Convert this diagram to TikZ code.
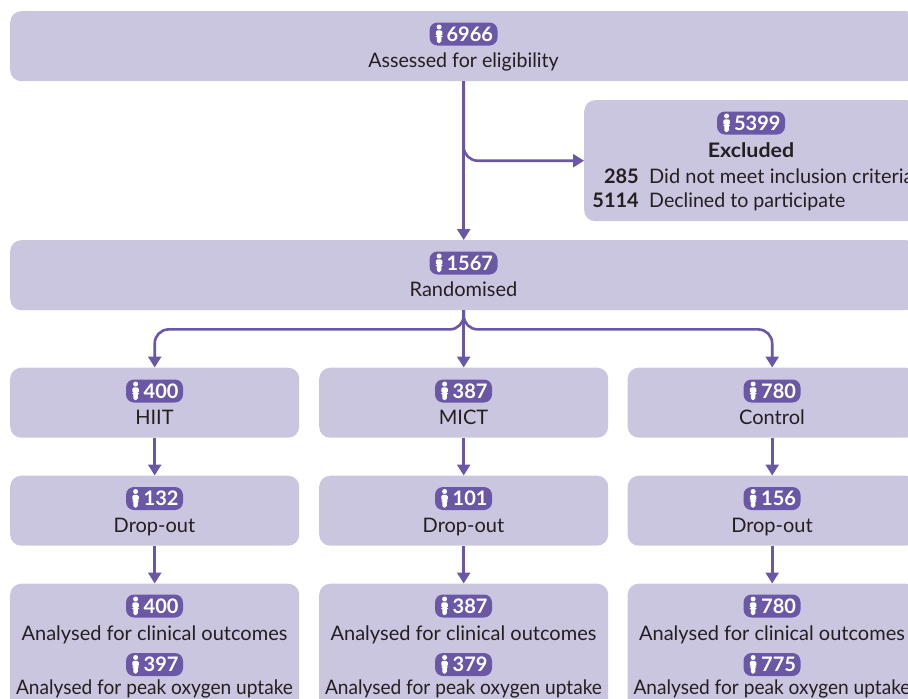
\documentclass[tikz,border=0pt]{standalone}
\usepackage{fontspec}
\setmainfont{Lato}
\usetikzlibrary{arrows.meta,positioning}
\definecolor{boxfill}{HTML}{CBC6E0}
\definecolor{purp}{HTML}{6A58A6}
\definecolor{ink}{HTML}{231F20}
\tikzset{
 x=1pt,y=-1pt,
 flowbox/.style={draw=none,fill=boxfill,rounded corners=11pt,anchor=north west,inner sep=0pt},
 txt/.style={text=ink,font=\fontsize{20}{24}\selectfont,inner sep=0pt,anchor=base},
 badge/.style={fill=purp,text=white,rounded corners=8pt,font=\fontsize{20}{24}\selectfont\bfseries,inner sep=0pt,minimum height=23pt,text depth=0pt},
 conn/.style={draw=purp,line width=2.6pt,-{Triangle[width=13pt,length=11pt]}},
 branch/.style={conn,rounded corners=14pt},
}
\newcommand{\narrowed}[2]{\scalebox{#1}[1]{#2}}
% #1 name, #2 centre, #3 number, #4 badge width
\newcommand{\pbadge}[4]{%
 \node[badge,minimum width=#4pt,text width=#4pt,align=right] (#1) at (#2) {\makebox[#4pt][r]{#3\hspace{4.5pt}}};
 \fill[white] ([xshift=9.8pt,yshift=7pt]#1.west) circle (2.5pt);
 \fill[white,rounded corners=1.5pt] ([xshift=6.5pt,yshift=3.6pt]#1.west) -- ([xshift=13.1pt,yshift=3.6pt]#1.west) -- ([xshift=13.1pt,yshift=-2pt]#1.west) -- ([xshift=12.1pt,yshift=-2pt]#1.west) -- ([xshift=11.9pt,yshift=-9pt]#1.west) -- ([xshift=7.7pt,yshift=-9pt]#1.west) -- ([xshift=7.5pt,yshift=-2pt]#1.west) -- ([xshift=6.5pt,yshift=-2pt]#1.west) -- cycle;
}
\begin{document}
\begin{tikzpicture}
\useasboundingbox (0,0) rectangle (908,699);
\clip (0,0) rectangle (908,699);
% boxes
\node[flowbox,minimum width=907pt,minimum height=70pt] (assess) at (10,11) {};
\node[flowbox,minimum width=333pt,minimum height=121pt] (excl) at (584,100) {};
\node[flowbox,minimum width=907pt,minimum height=70pt] (rand) at (10,240) {};
\node[flowbox,minimum width=289pt,minimum height=70pt] (hiit) at (10,367.5) {};
\node[flowbox,minimum width=289pt,minimum height=70pt] (mict) at (319,367.5) {};
\node[flowbox,minimum width=289pt,minimum height=70pt] (ctrl) at (627.5,367.5) {};
\node[flowbox,minimum width=289pt,minimum height=70pt] (dh) at (10,475.5) {};
\node[flowbox,minimum width=289pt,minimum height=70pt] (dm) at (319,475.5) {};
\node[flowbox,minimum width=289pt,minimum height=70pt] (dc) at (627.5,475.5) {};
\node[flowbox,minimum width=289pt,minimum height=140pt] (ah) at (10,583.5) {};
\node[flowbox,minimum width=289pt,minimum height=140pt] (am) at (319,583.5) {};
\node[flowbox,minimum width=289pt,minimum height=140pt] (ac) at (627.5,583.5) {};
% connectors
\draw[conn] (assess.south) -- (rand.north);
\draw[branch] (assess.south) |- (excl.west);
\draw[conn] (rand.south) -- (mict.north);
\draw[branch] (rand.south) |- ++(0,19) -| (hiit.north);
\draw[branch] (rand.south) |- ++(0,19) -| (ctrl.north);
\draw[conn] (hiit) -- (dh);
\draw[conn] (mict) -- (dm);
\draw[conn] (ctrl) -- (dc);
\draw[conn] (dh) -- (ah);
\draw[conn] (dm) -- (am);
\draw[conn] (dc) -- (ac);
% badges
\pbadge{b1}{463.5,34}{6966}{68}
\pbadge{b2}{751,123}{5399}{68}
\pbadge{b3}{463.5,263}{1567}{68}
\pbadge{b4}{154.5,391}{400}{57}
\pbadge{b5}{463.5,391}{387}{57}
\pbadge{b6}{772,391}{780}{57}
\pbadge{b7}{154.5,498.5}{132}{57}
\pbadge{b8}{463.5,498.5}{101}{57}
\pbadge{b9}{772,498.5}{156}{57}
\pbadge{b10}{154.5,606}{400}{57}
\pbadge{b11}{463.5,606}{387}{57}
\pbadge{b12}{772,606}{780}{57}
\pbadge{b13}{154.5,664.5}{397}{57}
\pbadge{b14}{463.5,664.5}{379}{57}
\pbadge{b15}{772,664.5}{775}{57}
% texts
\node[txt] (t1) at (463.5,67) {\narrowed{0.98}{Assessed for eligibility}};
\node[txt] (t2) at (751,157) {\narrowed{1.07}{\bfseries Excluded}};
\node[txt,anchor=base east] (t3) at (639,183) {\bfseries 285};
\node[txt,anchor=base west] (t4) at (649,183) {Did not meet inclusion criteria};
\node[txt,anchor=base east] (t5) at (639,207) {\bfseries 5114};
\node[txt,anchor=base west] (t6) at (649,207) {\narrowed{0.98}{Declined to participate}};
\node[txt] (t7) at (463.5,296) {Randomised};
\node[txt] (t8) at (154.5,424) {HIIT};
\node[txt] (t9) at (463.5,424) {MICT};
\node[txt] (t10) at (772,424) {Control};
\node[txt] (t11) at (154.5,532) {Drop-out};
\node[txt] (t12) at (463.5,532) {Drop-out};
\node[txt] (t13) at (772,532) {Drop-out};
\node[txt] (t14) at (154.5,640) {Analysed for clinical outcomes};
\node[txt] (t15) at (463.5,640) {Analysed for clinical outcomes};
\node[txt] (t16) at (772,640) {Analysed for clinical outcomes};
\node[txt] (t17) at (154.5,694) {\narrowed{0.955}{Analysed for peak oxygen uptake}};
\node[txt] (t18) at (463.5,694) {\narrowed{0.955}{Analysed for peak oxygen uptake}};
\node[txt] (t19) at (772,694) {\narrowed{0.955}{Analysed for peak oxygen uptake}};
\end{tikzpicture}
\end{document}
